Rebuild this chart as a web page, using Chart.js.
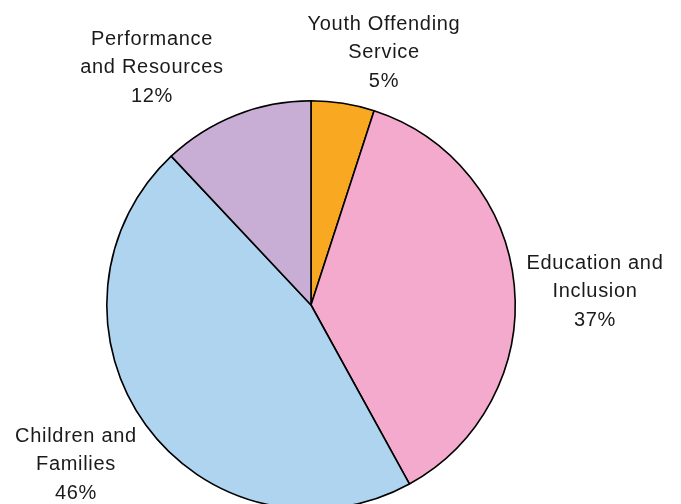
<!DOCTYPE html>
<html>
<head>
<meta charset="utf-8">
<script src="https://cdn.jsdelivr.net/npm/chart.js@4"></script>
<style>
  html, body { margin: 0; padding: 0; background: #fff; overflow: hidden; }
  #wrap { position: relative; width: 681px; height: 520px; }
</style>
</head>
<body>
<div id="wrap"><canvas id="pie"></canvas></div>
<script>
// budget split by service area
const categories = ['Youth Offending\nService', 'Education and\nInclusion', 'Children and\nFamilies', 'Performance\nand Resources']
const shares = [5, 37, 46, 12]
const colours = ['#F9A822', '#F4AACD', '#AED4F0', '#C8AED4']

// where each label block sits (centre x, first line y)
const labelSpots = [[384, 24], [595, 263], [76, 436], [152, 39]]

const outsideLabels = {
  id: 'outsideLabels',
  afterDraw (chart) {
    const ctx = chart.ctx
    ctx.save()
    ctx.font = '20px "Liberation Sans", Arial, sans-serif'
    ctx.letterSpacing = '0.7px'
    ctx.fillStyle = '#1a1a1a'
    ctx.textAlign = 'center'
    ctx.textBaseline = 'middle'
    chart.data.labels.forEach((label, i) => {
      const lines = label.split('\n').concat(shares[i] + '%')
      const [x, y] = labelSpots[i]
      lines.forEach((line, j) => ctx.fillText(line, x, y + j * 28.5))
    })
    ctx.restore()
  }
}

new Chart(document.getElementById('pie'), {
  type: 'pie',
  data: {
    labels: categories,
    datasets: [{
      data: shares,
      backgroundColor: colours,
      borderColor: '#000',
      borderWidth: 1.6
    }]
  },
  options: {
    responsive: true,
    maintainAspectRatio: false,
    animation: false,
    layout: { padding: { top: 100, bottom: 10, left: 106, right: 165 } },
    plugins: {
      legend: { display: false },
      tooltip: { enabled: false }
    }
  },
  plugins: [outsideLabels]
})
</script>
</body>
</html>
